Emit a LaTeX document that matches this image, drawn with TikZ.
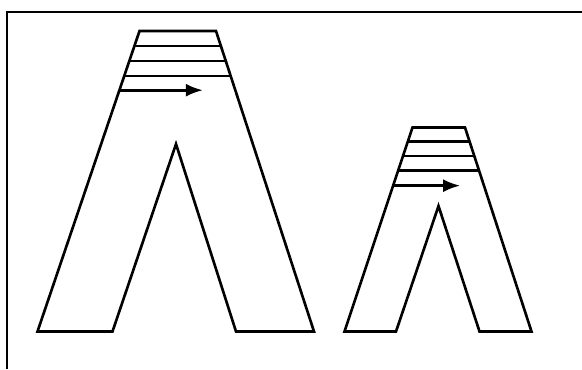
\documentclass[tikz,border=0pt]{standalone}
\usetikzlibrary{arrows.meta,calc}
\begin{document}
\begin{tikzpicture}[
  frame/.style={line width=1.2pt},
  leg/.style={line width=1.5pt},
  stripe/.style={line width=1.5pt},
  arrow/.style={-{Latex[length=0.34cm, width=0.26cm]}, line width=1.5pt}
]
  \useasboundingbox (0,0) rectangle (11.64,7.38);
  \draw[frame] (0.14,0) -- (0.14,7.14) -- (11.64,7.14);

  % large one
  \coordinate (Ltl) at (2.79,6.76);
  \coordinate (Ltr) at (4.32,6.76);
  \coordinate (Lbr) at (6.28,0.75);
  \coordinate (Lbri) at (4.72,0.75);
  \coordinate (Ltop) at (3.52,4.50);
  \coordinate (Lbli) at (2.25,0.75);
  \coordinate (Lbl) at (0.75,0.75);
  \draw[leg] (Lbl) -- (Ltl) -- (Ltr) -- (Lbr) -- (Lbri) -- (Ltop) -- (Lbli) -- cycle;

  \draw[stripe] ($(Ltl)!0.05!(Lbl)$) -- ($(Ltr)!0.05!(Lbr)$);
  \draw[stripe] ($(Ltl)!0.10!(Lbl)$) -- ($(Ltr)!0.10!(Lbr)$);
  \draw[stripe] ($(Ltl)!0.15!(Lbl)$) -- ($(Ltr)!0.15!(Lbr)$);
  \coordinate (La) at ($(Ltl)!0.197!(Lbl)$);
  \draw[arrow] (La) -- ++(1.67,0);

  % small one
  \coordinate (Stl) at (8.25,4.83);
  \coordinate (Str) at (9.30,4.83);
  \coordinate (Sbr) at (10.63,0.75);
  \coordinate (Sbri) at (9.59,0.75);
  \coordinate (Stop) at (8.77,3.26);
  \coordinate (Sbli) at (7.92,0.75);
  \coordinate (Sbl) at (6.89,0.75);
  \draw[leg] (Sbl) -- (Stl) -- (Str) -- (Sbr) -- (Sbri) -- (Stop) -- (Sbli) -- cycle;

  \draw[stripe] ($(Stl)!0.07!(Sbl)$) -- ($(Str)!0.07!(Sbr)$);
  \draw[stripe] ($(Stl)!0.14!(Sbl)$) -- ($(Str)!0.14!(Sbr)$);
  \draw[stripe] ($(Stl)!0.21!(Sbl)$) -- ($(Str)!0.21!(Sbr)$);
  \coordinate (Sa) at ($(Stl)!0.285!(Sbl)$);
  \draw[arrow] (Sa) -- ++(1.34,0);
\end{tikzpicture}
\end{document}
